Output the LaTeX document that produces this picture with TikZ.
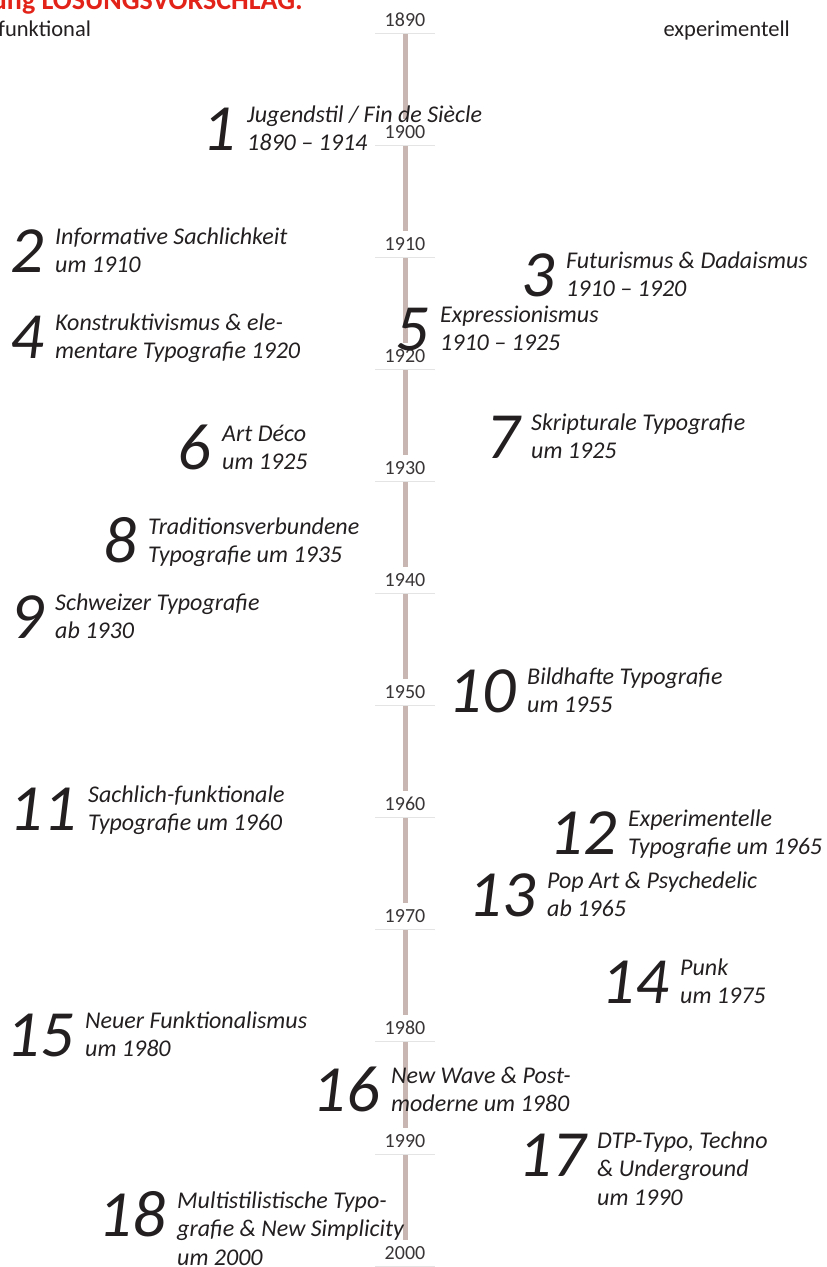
\documentclass[tikz,border=0pt]{standalone}
\usepackage{fontspec}
\setmainfont{Carlito}
\usetikzlibrary{positioning}
\definecolor{zeitachse}{HTML}{C8B6B2}
\definecolor{strich}{HTML}{E4E4E4}
\definecolor{rot}{HTML}{E2231A}
\definecolor{schrift}{HTML}{231F20}
\tikzset{
  jahr/.style={fill=white, text=schrift!90, font=\fontsize{20}{20}\selectfont, minimum height=26pt, minimum width=14pt, inner sep=0pt, anchor=south},
  pol/.style={text=schrift, font=\fontsize{22.5}{22.5}\selectfont, inner sep=0pt},
  stil/.style={text=schrift, font=\fontsize{24}{28.5}\selectfont\itshape, inner sep=0pt, anchor=base west},
  nummer/.style={text=schrift, font=\fontsize{66}{66}\selectfont\itshape, inner sep=0pt, anchor=base east},
}
\def\epoche[#1](#2)#3#4{%
  \node[stil] (#1) at (#2) {\begin{tabular}[t]{@{}l@{}}#4\end{tabular}};
  \node[nummer] (#1nr) at ([shift={(-11,28.5)}]#1.base west) {#3};
}

\begin{document}
\begin{tikzpicture}[x=1pt, y=-1pt]
	%%%%% START %%%%%
	\useasboundingbox (0,0) rectangle (827,1267);
	\clip (0,0) rectangle (827,1267);
	
	\node[text=rot, font=\fontsize{28}{28}\selectfont\bfseries, inner sep=0pt, anchor=base east] (titel) at (303,9) {Übung LÖSUNGSVORSCHLAG:};
	\node[pol, anchor=base west] (funktional) at (-2,36) {funktional};
	\node[pol, anchor=base east] (experimentell) at (790,36) {experimentell};
	
	\draw[zeitachse, line width=5pt] (405,33) -- (405,1267);
	
	\node[jahr] (j1890) at (405,33) {1890};
	\node[jahr] (j1900) at (405,145) {1900};
	\node[jahr] (j1910) at (405,257) {1910};
	\node[jahr] (j1920) at (405,369) {1920};
	\node[jahr] (j1930) at (405,481) {1930};
	\node[jahr] (j1940) at (405,593) {1940};
	\node[jahr] (j1950) at (405,705) {1950};
	\node[jahr] (j1960) at (405,817) {1960};
	\node[jahr] (j1970) at (405,929) {1970};
	\node[jahr] (j1980) at (405,1041) {1980};
	\node[jahr] (j1990) at (405,1154) {1990};
	\node[jahr] (j2000) at (405,1266) {2000};
	
	\draw[strich] (375,33) -- (435,33);
	\draw[strich] (375,145) -- (435,145);
	\draw[strich] (375,257) -- (435,257);
	\draw[strich] (375,369) -- (435,369);
	\draw[strich] (375,481) -- (435,481);
	\draw[strich] (375,593) -- (435,593);
	\draw[strich] (375,705) -- (435,705);
	\draw[strich] (375,817) -- (435,817);
	\draw[strich] (375,929) -- (435,929);
	\draw[strich] (375,1041) -- (435,1041);
	\draw[strich] (375,1154) -- (435,1154);
	\draw[strich] (375,1266) -- (435,1266);
	
	\epoche[jugendstil](247,122){1}{Jugendstil / Fin de Siècle\\1890 -- 1914}
	\epoche[sachlichkeit](55,244){2}{Informative Sachlichkeit\\um 1910}
	\epoche[futurismus](566,268){3}{Futurismus \& Dadaismus\\1910 -- 1920}
	\epoche[konstruktivismus](55,330){4}{Konstruktivismus \& ele-\\mentare Typografie 1920}
	\epoche[expressionismus](440,322){5}{Expressionismus\\1910 -- 1925}
	\epoche[artdeco](222,441){6}{Art Déco\\um 1925}
	\epoche[skriptural](531,430){7}{Skripturale Typografie\\um 1925}
	\epoche[tradition](148,534){8}{Traditionsverbundene\\Typografie um 1935}
	\epoche[schweizer](55,610){9}{Schweizer Typografie\\ab 1930}
	\epoche[bildhaft](527,684){10}{Bildhafte Typografie\\um 1955}
	\epoche[funktionale](88,802){11}{Sachlich-funktionale\\Typografie um 1960}
	\epoche[experimentelle](628,826){12}{Experimentelle\\Typografie um 1965}
	\epoche[popart](547,888){13}{Pop Art \& Psychedelic\\ab 1965}
	\epoche[punk](680,975){14}{Punk\\um 1975}
	\epoche[neuer](85,1028){15}{Neuer Funktionalismus\\um 1980}
	\epoche[newwave](391,1083){16}{New Wave \& Post-\\moderne um 1980}
	\epoche[dtp](597,1148){17}{DTP-Typo, Techno\\\& Underground\\um 1990}
	\epoche[multi](177,1208){18}{Multistilistische Typo-\\grafie \& New Simplicity\\um 2000}
	
	%%%%% END %%%%%
\end{tikzpicture}
\end{document}
